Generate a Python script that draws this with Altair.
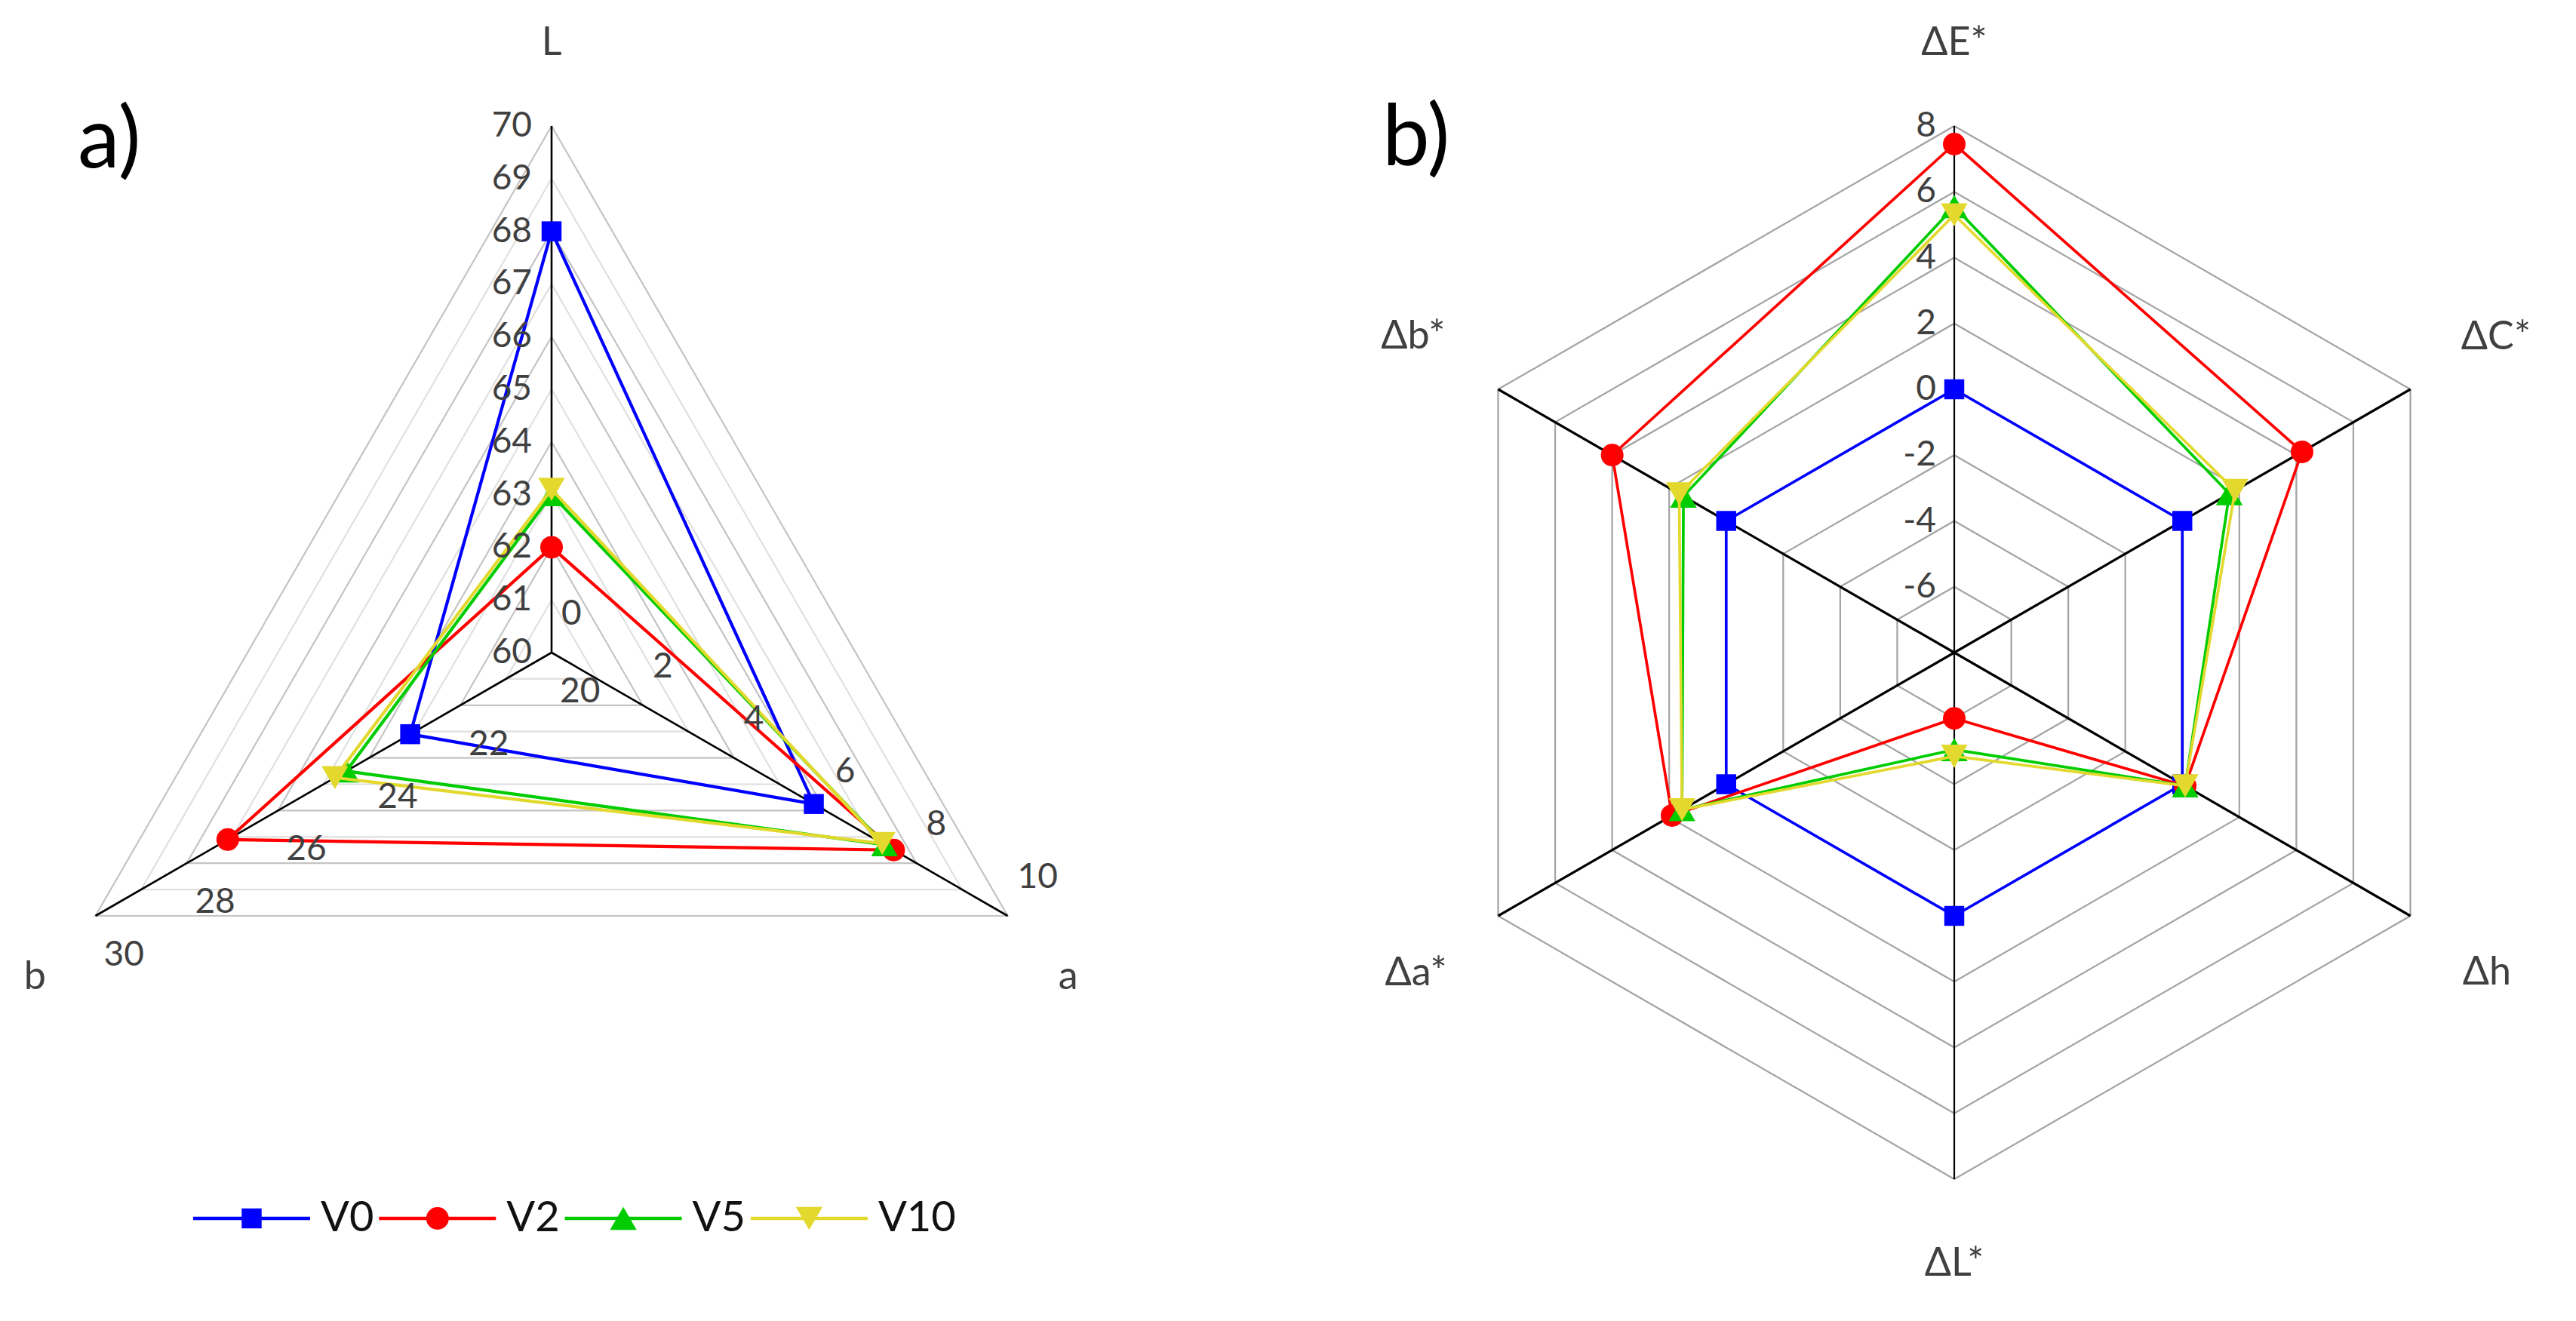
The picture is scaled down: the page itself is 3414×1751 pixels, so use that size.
import math
import altair as alt
import pandas as pd

# ---------------- data ----------------
series = ["V0", "V2", "V5", "V10"]

# panel a): L, a, b (each axis has its own range)
a_axes = ["L", "a", "b"]
a_lo = [60, 0, 20]
a_hi = [70, 10, 30]
L_vals = [68.0, 62.0, 63.0, 63.1]
a_vals = [5.75, 7.5, 7.3, 7.25]
b_vals = [23.1, 27.1, 24.5, 24.75]
L_ticks = [60, 61, 62, 63, 64, 65, 66, 67, 68, 69, 70]
a_ticks = [0, 2, 4, 6, 8, 10]
b_ticks = [20, 22, 24, 26, 28, 30]

# panel b): colour differences
d_axes = ["ΔE*", "ΔC*", "Δh", "ΔL*", "Δa*", "Δb*"]
dE = [0.0, 7.45, 5.55, 5.3]
dC = [0.0, 4.2, 1.65, 1.85]
dh = [0.0, 0.1, 0.1, 0.1]
dL = [0.0, -6.0, -5.05, -4.85]
da = [0.0, 1.9, 1.55, 1.55]
db = [0.0, 4.0, 1.5, 1.65]
d_ticks = [-6, -4, -2, 0, 2, 4, 6, 8]
d_lo, d_hi = -8, 8

# ---------------- styles / layout ----------------
colors = {"V0": "#0000FF", "V2": "#FF0000", "V5": "#00CC00", "V10": "#E3D92E"}
shapes = {"V0": "square", "V2": "circle", "V5": "triangle-up", "V10": "triangle-down"}
msize = {"V0": 700, "V2": 900, "V5": 1250, "V10": 1250}
FONT = "Lato"
TXT = "#404040"
TICK_FS = 46
TITLE_FS = 52

R = 698.0
H = 1730
WA, WB = 1700, 1698
CA = (731 - 8, 865 - 8)
CB = (2590 - 8 - WA, 865 - 8)


def domains(c, w):
    return [-c[0] / R, (w - c[0]) / R], [-(H - c[1]) / R, c[1] / R]


def enc(c, w):
    xd, yd = domains(c, w)
    X = lambda f: alt.X(f, type="quantitative", scale=alt.Scale(domain=xd, nice=False, zero=False), axis=None)
    Y = lambda f: alt.Y(f, type="quantitative", scale=alt.Scale(domain=yd, nice=False, zero=False), axis=None)
    return X, Y


def pol(ang, fr):
    t = math.radians(ang)
    return fr * math.cos(t), fr * math.sin(t)


# ================= panel a =================
XA, YA = enc(CA, WA)
ang_a = {"L": 90, "a": -30, "b": 210}
title_pos_a = {"L": (1.158, 90), "a": (1.158, -32.1), "b": (1.158, 212.1)}
lo_a = dict(zip(a_axes, a_lo))
hi_a = dict(zip(a_axes, a_hi))


def fr_a(ax, v):
    return (v - lo_a[ax]) / (hi_a[ax] - lo_a[ax])


rows = []
for k in range(1, 11):
    for i, ax in enumerate(["L", "a", "b", "L"]):
        x, y = pol(ang_a[ax], k / 10)
        rows.append({"ring": k, "i": i, "x": x, "y": y, "even": k % 2 == 0})
grid_a = pd.DataFrame(rows)

layers_a = []
for even, col in [(False, "#e0e0e0"), (True, "#c4c4c4")]:
    layers_a.append(
        alt.Chart(grid_a[grid_a.even == even]).mark_line(color=col, strokeWidth=2.2)
        .encode(x=XA("x"), y=YA("y"), order="i:Q", detail="ring:N")
    )

sp = []
for ax in a_axes:
    x, y = pol(ang_a[ax], 1)
    sp.append({"x0": 0.0, "y0": 0.0, "x2": x, "y2": y})
layers_a.append(
    alt.Chart(pd.DataFrame(sp)).mark_rule(color="black", strokeWidth=2.6)
    .encode(x=XA("x0"), y=YA("y0"), x2="x2:Q", y2="y2:Q")
)

vals_a = {"L": L_vals, "a": a_vals, "b": b_vals}
for si, s in enumerate(series):
    rr = []
    for i, ax in enumerate(["L", "a", "b", "L"]):
        x, y = pol(ang_a[ax], fr_a(ax, vals_a[ax][si]))
        rr.append({"i": i, "x": x, "y": y})
    df = pd.DataFrame(rr)
    layers_a.append(
        alt.Chart(df).mark_line(color=colors[s], strokeWidth=4.2, strokeJoin="round")
        .encode(x=XA("x"), y=YA("y"), order="i:Q")
    )
    layers_a.append(
        alt.Chart(df[df.i < 3]).mark_point(shape=shapes[s], size=msize[s], filled=True,
                                            color=colors[s], opacity=1)
        .encode(x=XA("x"), y=YA("y"))
    )

# tick labels
lt = pd.DataFrame([{"t": str(v), "x": 0.0, "y": fr_a("L", v)} for v in L_ticks])
layers_a.append(
    alt.Chart(lt).mark_text(align="right", baseline="middle", dx=-26, fontSize=TICK_FS, font=FONT, color=TXT)
    .encode(x=XA("x"), y=YA("y"), text="t:N")
)
at = pd.DataFrame([dict(zip(["x", "y"], pol(-30, fr_a("a", v))), t=str(v)) for v in a_ticks])
layers_a.append(
    alt.Chart(at).mark_text(align="left", baseline="middle", dx=13, dy=-51, fontSize=TICK_FS, font=FONT, color=TXT)
    .encode(x=XA("x"), y=YA("y"), text="t:N")
)
bt = pd.DataFrame([dict(zip(["x", "y"], pol(210, fr_a("b", v))), t=str(v)) for v in b_ticks])
layers_a.append(
    alt.Chart(bt).mark_text(align="left", baseline="middle", dx=11, dy=52, fontSize=TICK_FS, font=FONT, color=TXT)
    .encode(x=XA("x"), y=YA("y"), text="t:N")
)
# axis titles
tt = pd.DataFrame([dict(zip(["x", "y"], pol(title_pos_a[ax][1], title_pos_a[ax][0])), t=ax) for ax in a_axes])
layers_a.append(
    alt.Chart(tt).mark_text(align="center", baseline="middle", fontSize=TITLE_FS, font=FONT, color=TXT)
    .encode(x=XA("x"), y=YA("y"), text="t:N")
)
# panel label
layers_a.append(
    alt.Chart(pd.DataFrame({"t": ["a)"]})).mark_text(align="left", baseline="alphabetic", fontSize=112,
                                                      font=FONT, color="black")
    .encode(x=alt.value(95), y=alt.value(214), text="t:N")
)

# legend (drawn as marks, in panel a)
LX0, LP, LLEN, LGAP, LY = 248, 246.3, 155, 14, 1607
leg = []
for i, s in enumerate(series):
    px = LX0 + LP * i
    leg.append({
        "s": s,
        "x1": (px - CA[0]) / R, "x2": (px + LLEN - CA[0]) / R,
        "xm": (px + LLEN / 2 - CA[0]) / R, "xt": (px + LLEN + LGAP - CA[0]) / R,
        "y": (CA[1] - LY) / R,
    })
leg = pd.DataFrame(leg)
for s in series:
    d = leg[leg.s == s]
    layers_a.append(
        alt.Chart(d).mark_rule(color=colors[s], strokeWidth=4.5)
        .encode(x=XA("x1"), x2="x2:Q", y=YA("y"))
    )
    layers_a.append(
        alt.Chart(d).mark_point(shape=shapes[s], size=msize[s], filled=True, color=colors[s], opacity=1)
        .encode(x=XA("xm"), y=YA("y"))
    )
layers_a.append(
    alt.Chart(leg).mark_text(align="left", baseline="middle", fontSize=56, font=FONT, color="#111111")
    .encode(x=XA("xt"), y=YA("y"), text="s:N")
)

panel_a = alt.layer(*layers_a).properties(width=WA, height=H)

# ================= panel b =================
XB, YB = enc(CB, WB)
ang_b = {"ΔE*": 90, "ΔC*": 30, "Δh": -30, "ΔL*": -90, "Δa*": 210, "Δb*": 150}
title_pos_b = {"ΔE*": (1.158, 90), "ΔC*": (1.19, 30.2), "Δh": (1.18, -31.0),
               "ΔL*": (1.16, -90), "Δa*": (1.19, 210.8), "Δb*": (1.19, 149.7)}


def fr_b(v):
    return (v - d_lo) / (d_hi - d_lo)


rows = []
order_b = d_axes + [d_axes[0]]
for k in range(1, 9):
    for i, ax in enumerate(order_b):
        x, y = pol(ang_b[ax], k / 8)
        rows.append({"ring": k, "i": i, "x": x, "y": y})
grid_b = pd.DataFrame(rows)
layers_b = [
    alt.Chart(grid_b).mark_line(color="#a3a3a3", strokeWidth=2.2)
    .encode(x=XB("x"), y=YB("y"), order="i:Q", detail="ring:N")
]
for axes_set, w in [(["ΔE*", "ΔL*"], 2.2), (["ΔC*", "Δh", "Δa*", "Δb*"], 3.2)]:
    sp = []
    for ax in axes_set:
        x, y = pol(ang_b[ax], 1)
        sp.append({"x0": 0.0, "y0": 0.0, "x2": x, "y2": y})
    layers_b.append(
        alt.Chart(pd.DataFrame(sp)).mark_rule(color="black", strokeWidth=w)
        .encode(x=XB("x0"), y=YB("y0"), x2="x2:Q", y2="y2:Q")
    )

vals_b = {"ΔE*": dE, "ΔC*": dC, "Δh": dh, "ΔL*": dL, "Δa*": da, "Δb*": db}
for si, s in enumerate(series):
    rr = []
    for i, ax in enumerate(order_b):
        x, y = pol(ang_b[ax], fr_b(vals_b[ax][si]))
        rr.append({"i": i, "x": x, "y": y})
    df = pd.DataFrame(rr)
    layers_b.append(
        alt.Chart(df).mark_line(color=colors[s], strokeWidth=3.7, strokeJoin="round")
        .encode(x=XB("x"), y=YB("y"), order="i:Q")
    )
    layers_b.append(
        alt.Chart(df[df.i < 6]).mark_point(shape=shapes[s], size=msize[s], filled=True,
                                            color=colors[s], opacity=1)
        .encode(x=XB("x"), y=YB("y"))
    )

dt = pd.DataFrame([{"t": str(v), "x": 0.0, "y": fr_b(v)} for v in d_ticks])
layers_b.append(
    alt.Chart(dt).mark_text(align="right", baseline="middle", dx=-24, fontSize=TICK_FS, font=FONT, color=TXT)
    .encode(x=XB("x"), y=YB("y"), text="t:N")
)
tb = []
for ax in d_axes:
    rf, ag = title_pos_b[ax]
    x, y = pol(ag, rf)
    tb.append({"t": ax, "x": x, "y": y})
layers_b.append(
    alt.Chart(pd.DataFrame(tb)).mark_text(align="center", baseline="middle", fontSize=TITLE_FS, font=FONT, color=TXT)
    .encode(x=XB("x"), y=YB("y"), text="t:N")
)
layers_b.append(
    alt.Chart(pd.DataFrame({"t": ["b)"]})).mark_text(align="left", baseline="alphabetic", fontSize=112,
                                                      font=FONT, color="black")
    .encode(x=alt.value(124), y=alt.value(211), text="t:N")
)

panel_b = alt.layer(*layers_b).properties(width=WB, height=H)

chart = (
    alt.hconcat(panel_a, panel_b, spacing=0)
    .properties(padding=0, background="white")
    .configure_view(stroke=None)
)

chart.save("out.html", embed_options={"renderer": "svg", "actions": False})
